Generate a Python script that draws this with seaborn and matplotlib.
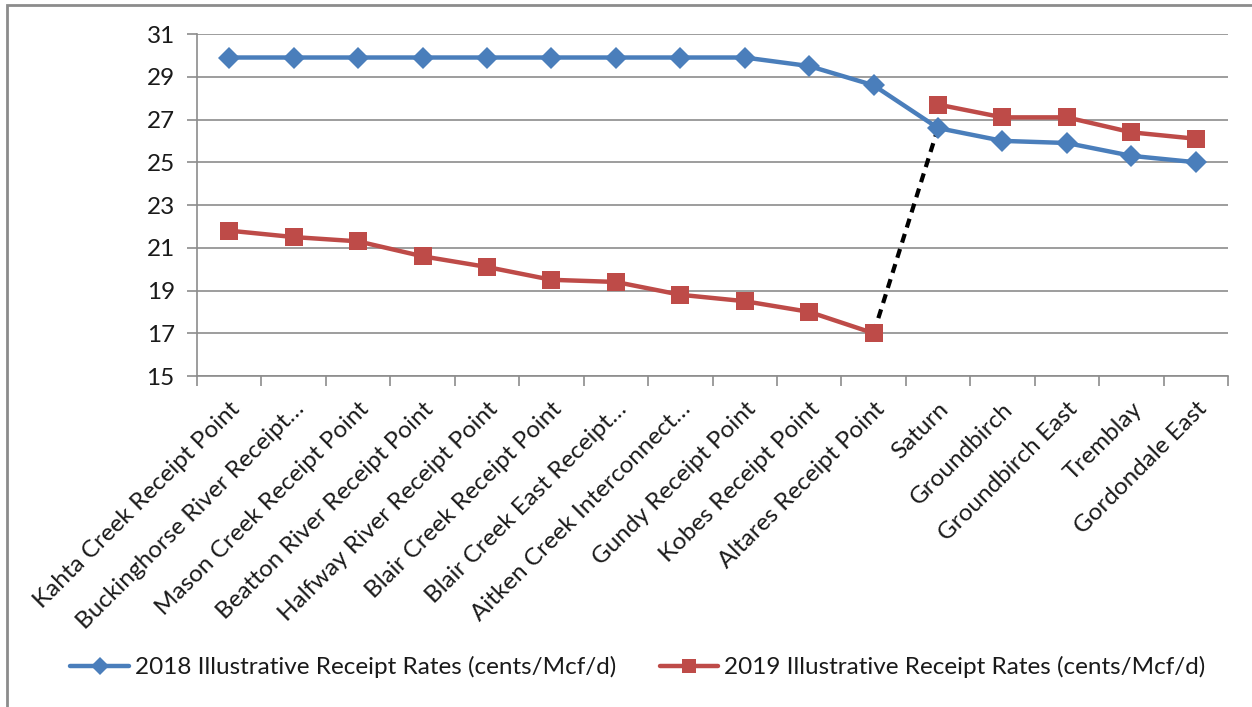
import matplotlib
matplotlib.use("Agg")
import matplotlib.pyplot as plt
from matplotlib.patches import Rectangle
import numpy as np
import pandas as pd
import seaborn as sns

categories = [
    "Kahta Creek Receipt Point",
    "Buckinghorse River Receipt…",
    "Mason Creek Receipt Point",
    "Beatton River Receipt Point",
    "Halfway River Receipt Point",
    "Blair Creek Receipt Point",
    "Blair Creek East Receipt…",
    "Aitken Creek Interconnect…",
    "Gundy Receipt Point",
    "Kobes Receipt Point",
    "Altares Receipt Point",
    "Saturn",
    "Groundbirch",
    "Groundbirch East",
    "Tremblay",
    "Gordondale East",
]
rates_2018 = [29.9, 29.9, 29.9, 29.9, 29.9, 29.9, 29.9, 29.9, 29.9, 29.5, 28.6,
              26.6, 26.0, 25.9, 25.3, 25.0]
rates_2019 = [21.8, 21.5, 21.3, 20.6, 20.1, 19.5, 19.4, 18.8, 18.5, 18.0, 17.0,
              27.7, 27.1, 27.1, 26.4, 26.1]
series_names = ["2018 Illustrative Receipt Rates (cents/Mcf/d)",
                "2019 Illustrative Receipt Rates (cents/Mcf/d)"]
y_ticks = [15, 17, 19, 21, 23, 25, 27, 29, 31]

sns.set_theme(style="white")
plt.rcParams["font.family"] = ["Lato", "DejaVu Sans"]

BLUE = "#4A7EBB"
RED = "#BE4B48"
GRID = "#8C8C8C"
FS = 17.5

pos = np.arange(len(categories))
i_alt = categories.index("Altares Receipt Point")
i_sat = categories.index("Saturn")

# 2019 rates are drawn as two separate runs (west and east of Saturn)
seg_2019 = np.where(pos < i_sat, 1, 2)
df = pd.concat([
    pd.DataFrame({"pos": pos, "rate": rates_2018, "series": series_names[0], "seg": 0}),
    pd.DataFrame({"pos": pos, "rate": rates_2019, "series": series_names[1], "seg": seg_2019}),
])

fig = plt.figure(figsize=(12.52, 7.07), dpi=100)
ax = fig.add_axes([197 / 1252, 1 - 376 / 707, (1228 - 197) / 1252, (376 - 34) / 707])

# dashed connector from Altares (2019) up to Saturn (2018)
ax.plot([pos[i_alt], pos[i_sat]], [rates_2019[i_alt], rates_2018[i_sat]],
        color="black", lw=3, ls=(0, (2.2, 1.6)), zorder=2)

sns.lineplot(data=df, x="pos", y="rate", hue="series", style="series",
             units="seg", estimator=None,
             palette=[BLUE, RED], markers=["D", "s"], dashes=False,
             linewidth=3.2, markersize=11.5, markeredgewidth=0, ax=ax,
             legend=False, zorder=3)
for line in ax.get_lines()[1:]:
    if line.get_marker() == "s":
        line.set_markersize(13.5)

ax.set_xlim(-0.5, len(categories) - 0.5)
ax.set_ylim(15, 31)
ax.set_yticks(y_ticks)
ax.yaxis.grid(True, color=GRID, lw=1.2)
ax.set_axisbelow(True)
ax.set_xlabel("")
ax.set_ylabel("")

# category boundaries get tick marks, category centres carry the labels
ax.set_xticks(np.arange(-0.5, len(categories)), minor=False)
ax.set_xticklabels([])
ax.set_xticks(pos, minor=True)
ax.set_xticklabels(categories, minor=True, rotation=45, ha="right",
                   rotation_mode="anchor", fontsize=FS, color="#1a1a1a")
ax.tick_params(axis="x", which="major", length=7, width=1.2, color=GRID,
               direction="out", bottom=True)
ax.tick_params(axis="x", which="minor", length=0, pad=16, bottom=True)
ax.tick_params(axis="y", length=7, width=1.2, color=GRID, direction="out",
               left=True, labelsize=FS, labelcolor="#1a1a1a", pad=9)

for s in ["top", "right"]:
    ax.spines[s].set_visible(False)
for s in ["left", "bottom"]:
    ax.spines[s].set_color(GRID)
    ax.spines[s].set_linewidth(1.2)

handles = [
    plt.Line2D([], [], color=BLUE, lw=3.2, marker="D", markersize=9, markeredgewidth=0),
    plt.Line2D([], [], color=RED, lw=3.2, marker="s", markersize=10, markeredgewidth=0),
]
fig.legend(handles, series_names, loc="center", ncol=2,
           bbox_to_anchor=(638 / 1252, 1 - 667 / 707), frameon=False,
           fontsize=FS, handlelength=2.4, handletextpad=0.25,
           columnspacing=1.8, labelcolor="#1a1a1a")

# chart-area frame
fig.patches.append(Rectangle((7 / 1252, -0.05), 1.1, 1 - 5 / 707 + 0.05,
                             transform=fig.transFigure, fill=False,
                             edgecolor="#8C8C8C", lw=2, zorder=0))

fig.savefig("out.png", dpi=100)
